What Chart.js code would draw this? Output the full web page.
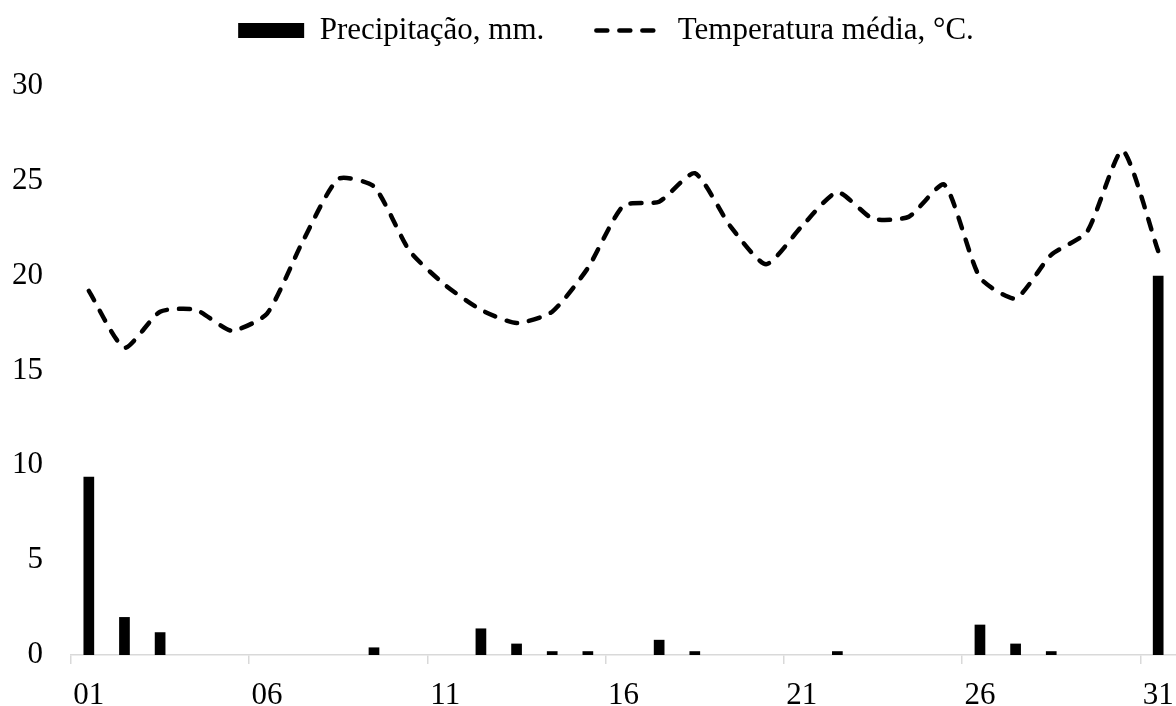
<!DOCTYPE html>
<html>
<head>
<meta charset="utf-8">
<script src="https://cdn.jsdelivr.net/npm/chart.js@4/dist/chart.umd.min.js"></script>
<style>
  body { margin: 0; background: #fff; }
  #wrap { width: 1176px; height: 706px; position: relative; }
</style>
</head>
<body>
<div id="wrap"><canvas id="grafico"></canvas></div>
<script>
const dias = ['01','02','03','04','05','06','07','08','09','10','11','12','13','14','15','16',
  '17','18','19','20','21','22','23','24','25','26','27','28','29','30','31'];
const precipitacao = [9.4, 2.0, 1.2, 0, 0, 0, 0, 0, 0.4, 0, 0, 1.4, 0.6, 0.2, 0.2, 0,
  0.8, 0.2, 0, 0, 0, 0.2, 0, 0, 0, 1.6, 0.6, 0.2, 0, 0, 20.0];
const temperatura = [19.2, 16.2, 18.1, 18.2, 17.1, 18.0, 21.8, 25.1, 24.7, 21.3, 19.5, 18.2, 17.5, 18.1, 20.4, 23.7,
  23.9, 25.4, 22.6, 20.6, 22.6, 24.4, 23.0, 23.1, 24.8, 19.9, 18.8, 21.1, 22.3, 26.6, 21.3];
const yTicks = [0, 5, 10, 15, 20, 25, 30];

const fonte = { family: "'Liberation Serif', 'Times New Roman', serif", size: 31 };
const cinza = '#d9d9d9';

// espaço extra abaixo da legenda e legenda um pouco à direita
const ajusteLegenda = {
  id: 'ajusteLegenda',
  beforeInit(chart) {
    const fitOriginal = chart.legend.fit;
    chart.legend.fit = function () {
      fitOriginal.bind(chart.legend)();
      this.height = 123;
    };
  },
  afterLayout(chart) {
    chart.legend.left = 36;
  }
};

const ctx = document.getElementById('grafico').getContext('2d');

new Chart(ctx, {
  data: {
    labels: dias,
    datasets: [
      {
        type: 'bar',
        label: 'Precipitação, mm.',
        data: precipitacao,
        backgroundColor: '#000',
        borderWidth: 0,
        barPercentage: 0.3,
        categoryPercentage: 1
      },
      {
        type: 'line',
        label: 'Temperatura média, °C.',
        data: temperatura,
        borderColor: '#000',
        backgroundColor: '#000',
        borderWidth: 4.5,
        borderDash: [11, 12],
        borderCapStyle: 'round',
        pointRadius: 0,
        tension: 0.2,
        fill: false
      }
    ]
  },
  options: {
    responsive: true,
    maintainAspectRatio: false,
    animation: false,
    layout: { padding: { top: -37, left: 0, right: 0, bottom: 0 } },
    plugins: {
      tooltip: { enabled: false },
      legend: {
        position: 'top',
        labels: {
          color: '#000',
          font: fonte,
          padding: 52,
          usePointStyle: true,
          pointStyleWidth: 66,
          boxHeight: 15,
          generateLabels(chart) {
            const itens = Chart.defaults.plugins.legend.labels.generateLabels(chart);
            itens.forEach((item, i) => {
              const ds = chart.data.datasets[i];
              if (ds.type === 'line') {
                item.pointStyle = 'line';
                item.lineDash = ds.borderDash;
                item.lineWidth = ds.borderWidth;
                item.lineCap = 'round';
                item.strokeStyle = '#000';
              } else {
                item.pointStyle = 'rect';
                item.fillStyle = '#000';
                item.lineWidth = 0;
              }
            });
            return itens;
          }
        }
      }
    },
    scales: {
      x: {
        offset: true,
        grid: {
          offset: true,
          drawOnChartArea: false,
          drawTicks: true,
          tickLength: 9,
          lineWidth: 1.5,
          color: c => (c.index % 5 === 0 ? cinza : 'rgba(0,0,0,0)')
        },
        border: { display: true, color: cinza, width: 1.5 },
        ticks: {
          autoSkip: false,
          maxRotation: 0,
          color: '#000',
          font: fonte,
          padding: 13,
          callback: function (val, index) {
            return index % 5 === 0 ? this.getLabelForValue(val) : '';
          }
        },
        afterFit: scale => {
          scale.height = 51;
          scale.paddingLeft = 0;
          scale.paddingRight = 0;
        }
      },
      y: {
        min: 0,
        max: 30,
        grid: { display: false, drawTicks: false },
        border: { display: false },
        afterBuildTicks: scale => { scale.ticks = yTicks.map(v => ({ value: v })); },
        ticks: {
          color: '#000',
          font: fonte,
          padding: 28
        },
        afterFit: scale => { scale.width = 71; }
      }
    }
  },
  plugins: [ajusteLegenda]
});
</script>
</body>
</html>
